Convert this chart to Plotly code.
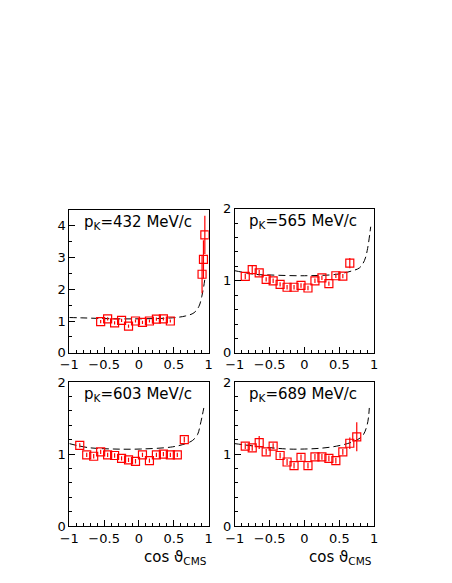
import plotly.graph_objects as go

# bin centres (cos theta_cms) and ratios
x_432 = [-0.55, -0.45, -0.35, -0.25, -0.15, -0.05, 0.05, 0.15, 0.25, 0.35, 0.45, 0.905, 0.925, 0.945]
y_432 = [0.98, 1.07, 0.94, 1.02, 0.84, 1.0, 0.96, 1.0, 1.06, 1.07, 1.0, 2.47, 2.94, 3.71]
e_432 = [0.05, 0.05, 0.05, 0.05, 0.05, 0.05, 0.05, 0.05, 0.05, 0.05, 0.05, 0.6, 0.6, 0.6]

x_565 = [-0.85, -0.75, -0.65, -0.55, -0.45, -0.35, -0.25, -0.15, -0.05, 0.05, 0.15, 0.25, 0.35, 0.45, 0.55, 0.65]
y_565 = [1.06, 1.155, 1.11, 1.02, 1.0, 0.95, 0.91, 0.91, 0.935, 0.9, 1.0, 1.04, 0.96, 1.07, 1.065, 1.245]
e_565 = [0.04, 0.05, 0.04, 0.03, 0.03, 0.03, 0.03, 0.03, 0.03, 0.03, 0.03, 0.03, 0.03, 0.03, 0.03, 0.07]

x_603 = [-0.85, -0.75, -0.65, -0.55, -0.45, -0.35, -0.25, -0.15, -0.05, 0.05, 0.15, 0.25, 0.35, 0.45, 0.55, 0.65]
y_603 = [1.12, 0.99, 0.97, 1.03, 0.99, 0.98, 0.94, 0.92, 0.9, 0.99, 0.91, 0.99, 1.0, 0.99, 0.99, 1.2]
e_603 = [0.03, 0.03, 0.03, 0.03, 0.03, 0.03, 0.03, 0.03, 0.03, 0.03, 0.03, 0.03, 0.03, 0.03, 0.03, 0.04]

x_689 = [-0.85, -0.75, -0.65, -0.55, -0.45, -0.35, -0.25, -0.15, -0.05, 0.05, 0.15, 0.25, 0.35, 0.45, 0.55, 0.65, 0.75]
y_689 = [1.11, 1.085, 1.16, 1.03, 1.11, 0.98, 0.89, 0.84, 0.955, 0.84, 0.96, 0.96, 0.94, 0.91, 1.03, 1.15, 1.24]
e_689 = [0.04, 0.04, 0.09, 0.04, 0.04, 0.04, 0.04, 0.04, 0.04, 0.04, 0.04, 0.04, 0.04, 0.04, 0.04, 0.08, 0.2]

# dashed model curves
cx_432 = [-1.0, -0.83, -0.36, 0.02, 0.48, 0.67, 0.79, 0.86, 0.9, 0.93, 0.95]
cy_432 = [1.11, 1.1, 1.07, 1.07, 1.1, 1.16, 1.26, 1.46, 1.76, 2.1, 2.4]
cx_565 = [-1.0, -0.71, -0.48, 0.0, 0.46, 0.69, 0.79, 0.86, 0.9, 0.95]
cy_565 = [1.14, 1.09, 1.08, 1.07, 1.09, 1.14, 1.18, 1.28, 1.42, 1.75]
cx_603 = [-1.0, -0.73, -0.36, 0.02, 0.48, 0.67, 0.77, 0.84, 0.88, 0.93]
cy_603 = [1.145, 1.09, 1.07, 1.07, 1.1, 1.145, 1.19, 1.27, 1.41, 1.64]
cx_689 = [-1.0, -0.71, -0.24, 0.0, 0.22, 0.46, 0.69, 0.83, 0.9, 0.93]
cy_689 = [1.145, 1.11, 1.07, 1.07, 1.08, 1.11, 1.17, 1.25, 1.41, 1.64]

labels = ["p<sub>K</sub>=432 MeV/c", "p<sub>K</sub>=565 MeV/c",
          "p<sub>K</sub>=603 MeV/c", "p<sub>K</sub>=689 MeV/c"]

OFF = 8  # default page margin around the plot div
W, H = 452 - 2 * OFF, 583 - 2 * OFF  # figure fits the window without scrolling
# panel frames in window pixels (left, right, top, bottom)
frames = [(61, 205, 208, 355), (232, 376, 207, 355),
          (61, 205, 385, 533), (232, 376, 385, 533)]

panels = [
    (x_432, y_432, e_432, cx_432, cy_432, 4.5, 0.5),
    (x_565, y_565, e_565, cx_565, cy_565, 2, 0.2),
    (x_603, y_603, e_603, cx_603, cy_603, 2, 0.2),
    (x_689, y_689, e_689, cx_689, cy_689, 2, 0.2),
]


def px(v):
    return (v - OFF) / W


def py(v):
    return 1 - (v - OFF) / H


font = "DejaVu Sans, sans-serif"
fig = go.Figure()
layout = {}

for i, (xs, ys, es, cx, cy, ymax, yminor) in enumerate(panels):
    n = "" if i == 0 else str(i + 1)
    xa, ya = "x" + n, "y" + n
    fig.add_trace(go.Scatter(
        x=cx, y=cy, xaxis=xa, yaxis=ya, mode="lines",
        line=dict(color="black", width=1, dash="7px,4px", shape="spline"),
        showlegend=False, hoverinfo="skip"))
    fig.add_trace(go.Scatter(
        x=xs, y=ys, xaxis=xa, yaxis=ya, mode="markers",
        marker=dict(symbol="square-open", size=8, color="red", line=dict(width=1.2)),
        error_y=dict(type="data", array=es, color="red", thickness=1.2, width=0),
        showlegend=False))

    l, r, t, b = frames[i]
    layout["xaxis" + n] = dict(
        domain=[px(l), px(r)], anchor=ya, range=[-1, 1],
        tickvals=[-1, -0.5, 0, 0.5, 1], ticktext=["\u22121", "\u22120.5", "0", "0.5", "1"],
        ticks="inside", ticklen=6, tickcolor="black",
        minor=dict(dtick=0.1, ticks="inside", ticklen=3, tickcolor="black"),
        showline=True, linecolor="black", linewidth=1, mirror=True,
        showgrid=False, zeroline=False, ticklabelstandoff=0,
        tickfont=dict(family=font, size=13, color="black"))
    ytv = [0, 1, 2, 3, 4] if ymax > 2 else [0, 1, 2]
    layout["yaxis" + n] = dict(
        domain=[py(b), py(t)], anchor=xa, range=[0, ymax],
        tickvals=ytv, ticks="inside", ticklen=6, tickcolor="black",
        minor=dict(dtick=yminor, ticks="inside", ticklen=3, tickcolor="black"),
        showline=True, linecolor="black", linewidth=1, mirror=True,
        showgrid=False, zeroline=False,
        tickfont=dict(family=font, size=13, color="black"))

annotations = []
for i, lab in enumerate(labels):
    l, r, t, b = frames[i]
    annotations.append(dict(
        text=lab, xref="paper", yref="paper", x=px(l + 13), y=py(t + 13),
        xanchor="left", yanchor="middle", showarrow=False,
        font=dict(family=font, size=15, color="black")))
for i in (2, 3):
    l, r, t, b = frames[i]
    annotations.append(dict(
        text="cos \u03d1<sub>CMS</sub>", xref="paper", yref="paper",
        x=px(r), y=py(565), xanchor="right", yanchor="middle", showarrow=False,
        font=dict(family=font, size=15, color="black")))

fig.update_layout(
    width=W, height=H, margin=dict(l=0, r=0, t=0, b=0),
    paper_bgcolor="white", plot_bgcolor="white",
    annotations=annotations, **layout)

fig.write_html("out.html")
